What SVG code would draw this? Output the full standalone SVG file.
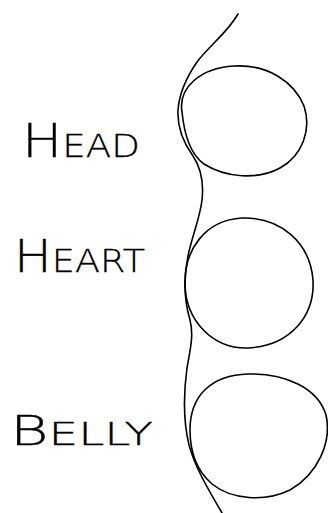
<svg xmlns="http://www.w3.org/2000/svg" width="328" height="513" viewBox="0 0 328 513">
<style>
.ink{fill:none;stroke:#000;stroke-width:1.6;stroke-linecap:round;stroke-linejoin:round}
.lbl{font-family:"DejaVu Sans","Liberation Sans",sans-serif;font-weight:200;fill:#000;stroke:#000;stroke-width:0.3}
</style>
<rect width="328" height="513" fill="#fff"/>
<g id="connectors">
<path class="ink" d="M238,14 C228,32 210,45 197,62 C186,78 179,95 178,110 C177,128 183,142 193,156 C201,168 204,182 202,200 C200,218 192,236 188,256 C184,276 184,300 190,320 C194,336 190,350 187,368 C184,390 183,420 189,445 C196,470 210,492 222,513"/>
</g>
<g id="head">
<path class="ink" d="M182,112 C178,88 200,68 234,66 C268,64 294,82 304,106 C312,130 302,156 280,168 C258,180 226,178 204,164 C190,154 184,132 182,112 Z"/>
<text class="lbl" x="22" y="157" textLength="118" lengthAdjust="spacingAndGlyphs"><tspan font-size="46">H</tspan><tspan font-size="32">EAD</tspan></text>
</g>
<g id="heart">
<path class="ink" d="M185,285 C184,250 205,220 242,218 C280,217 310,242 313,280 C315,316 290,346 248,348 C212,349 186,320 185,285 Z"/>
<text class="lbl" x="14" y="272" textLength="131" lengthAdjust="spacingAndGlyphs"><tspan font-size="44">H</tspan><tspan font-size="32">EART</tspan></text>
</g>
<g id="belly">
<path class="ink" d="M190,430 C190,395 212,375 248,374 C285,373 318,388 326,415 C332,442 318,474 290,490 C265,502 232,500 212,484 C196,470 190,452 190,430 Z"/>
<text class="lbl" x="10" y="445" textLength="143" lengthAdjust="spacingAndGlyphs"><tspan font-size="40">B</tspan><tspan font-size="32">ELLY</tspan></text>
</g>
</svg>
